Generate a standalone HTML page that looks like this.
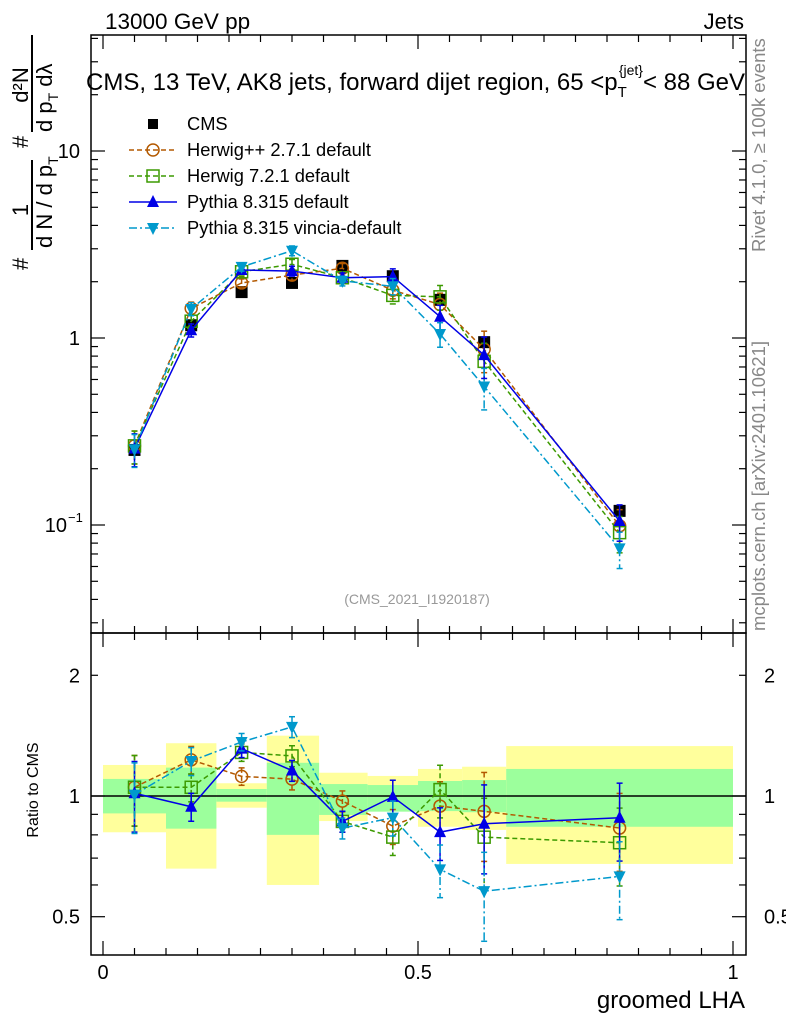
<!DOCTYPE html>
<html><head><meta charset="utf-8"><style>
body{margin:0;background:#fff;}
svg{display:block;font-family:"Liberation Sans",sans-serif;}
</style></head><body>
<svg id="c" width="786" height="1024" viewBox="0 0 786 1024" xmlns="http://www.w3.org/2000/svg"></svg>
<script>
const xCenters=[0.05,0.14,0.22,0.30,0.38,0.46,0.535,0.605,0.82];
const binEdges=[0,0.1,0.18,0.26,0.343,0.42,0.5,0.57,0.64,1.0];
const cmsVals=[0.252,1.17,1.76,1.97,2.43,2.14,1.6,0.95,0.119];
const herwigppVals=[0.265,1.44,1.97,2.17,2.36,1.80,1.51,0.87,0.099];
const herwig7Vals=[0.265,1.23,2.26,2.48,2.10,1.69,1.66,0.75,0.091];
const pythiaVals=[0.256,1.10,2.31,2.28,2.10,2.13,1.30,0.81,0.105];
const vinciaVals=[0.254,1.43,2.40,2.93,2.02,1.89,1.05,0.55,0.075];
const mcRelErr=[0.2,0.08,0.05,0.06,0.06,0.1,0.15,0.25,0.22];
const cmsRelErr=[0.05,0.05,0.03,0.04,0.03,0.04,0.04,0.05,0.06];
const statHi=[1.103,1.177,1.041,1.21,1.071,1.065,1.09,1.096,1.168];
const statLo=[0.905,0.829,0.968,0.80,0.897,0.914,0.917,0.911,0.838];
const totHi=[1.195,1.354,1.076,1.414,1.143,1.122,1.168,1.183,1.332];
const totLo=[0.812,0.659,0.935,0.60,0.866,0.944,0.838,0.823,0.677];
const mainTicks=[{v:10,t:"10"},{v:1,t:"1"}];
const ratioTicks=[{v:2,t:"2"},{v:1,t:"1"},{v:0.5,t:"0.5"}];
const xTicks=[{v:0,t:"0"},{v:0.5,t:"0.5"},{v:1,t:"1"}];

const NS="http://www.w3.org/2000/svg";
const svg=document.getElementById('c');
function el(tag,attrs,parent,text){const e=document.createElementNS(NS,tag);for(const k in attrs)e.setAttribute(k,attrs[k]);if(text!==undefined)e.textContent=text;(parent||svg).appendChild(e);return e;}
const L=91,R=746,MT=35,MB=633,RB=955;
const X=v=>103+630*v;
const Ym=v=>338-187*Math.log10(v);
const Yr=v=>796-401*Math.log10(v);

const gb=el('g',{},svg);

for(let i=0;i<xCenters.length;i++){
 const x0=X(binEdges[i]),x1=X(binEdges[i+1]);
 const y=el('rect',{x:x0,y:Yr(totHi[i]),width:x1-x0,height:Yr(totLo[i])-Yr(totHi[i]),fill:'#ffff9c'},gb);
 
 const g=el('rect',{x:x0,y:Yr(statHi[i]),width:x1-x0,height:Yr(statLo[i])-Yr(statHi[i]),fill:'#9cff9c'},gb);
 
}
el('line',{x1:L,x2:R,y1:Yr(1),y2:Yr(1),stroke:'#000','stroke-width':1.5});

for(const [t,b] of [[MT,MB],[MB,RB]]){
 const f=el('rect',{x:L,y:t,width:R-L,height:b-t,fill:'none',stroke:'#000','stroke-width':1.5});
 
}
for(let d=-2;d<=1;d++)for(let m=1;m<10;m++){
 const v=m*Math.pow(10,d);const y=Ym(v);if(y<MT||y>MB)continue;
 const len=m==1?14:7;
 el('line',{x1:L,x2:L+len,y1:y,y2:y,stroke:'#000','stroke-width':1.2});
 el('line',{x1:R,x2:R-len,y1:y,y2:y,stroke:'#000','stroke-width':1.2});
}
for(let d=-1;d<=0;d++)for(let m=1;m<10;m++){
 const v=m*Math.pow(10,d);const y=Yr(v);if(y<MB||y>RB)continue;
 const len=(m==1&&d==0)||(m==5&&d==-1)?14:7;
 el('line',{x1:L,x2:L+len,y1:y,y2:y,stroke:'#000','stroke-width':1.2});
 el('line',{x1:R,x2:R-len,y1:y,y2:y,stroke:'#000','stroke-width':1.2});
}
for(let k=0;k<=20;k++){
 const v=k*0.05;const x=X(v);const len=k%10==0?14:7;
 for(const [t,b] of [[MT,MB],[MB,RB]]){
  el('line',{x1:x,x2:x,y1:b,y2:b-len,stroke:'#000','stroke-width':1.2});
  el('line',{x1:x,x2:x,y1:t,y2:t+len,stroke:'#000','stroke-width':1.2});
 }
}
mainTicks.forEach(t=>{const e=el('text',{x:80,y:Ym(t.v)+7,'font-size':20,'text-anchor':'end'},svg,t.t);});
{const e=el('text',{x:67,y:Ym(0.1)+7,'font-size':20,'text-anchor':'end'},svg,'10');
 el('text',{x:68,y:Ym(0.1)-3,'font-size':13},svg,'−1');}
ratioTicks.forEach(t=>{
 const a=el('text',{x:80,y:Yr(t.v)+7,'font-size':20,'text-anchor':'end'},svg,t.t);
 const b=el('text',{x:764,y:Yr(t.v)+7,'font-size':20},svg,t.t);
});
xTicks.forEach(t=>{const e=el('text',{x:X(t.v),y:979,'font-size':20,'text-anchor':'middle'},svg,t.t);});

const series=[
 {name:'herwigpp',vals:herwigppVals,color:'#b35900',dash:'5,3',marker:'circle'},
 {name:'herwig7',vals:herwig7Vals,color:'#3c9a00',dash:'5,3',marker:'square'},
 {name:'pythia',vals:pythiaVals,color:'#0000e6',dash:'',marker:'up'},
 {name:'vincia',vals:vinciaVals,color:'#0099cc',dash:'8,3,2,3',marker:'down'}
];
function marker(g,type,x,y,color,s){
 s=s||6;let e;
 if(type=='circle')e=el('circle',{cx:x,cy:y,r:s,fill:'none',stroke:color,'stroke-width':1.5},g);
 else if(type=='square')e=el('rect',{x:x-s,y:y-s,width:2*s,height:2*s,fill:'none',stroke:color,'stroke-width':1.5},g);
 else if(type=='fsq')e=el('rect',{x:x-s,y:y-s,width:2*s,height:2*s,fill:color},g);
 else if(type=='up')e=el('polygon',{points:`${x},${y-s-1} ${x-s},${y+s-1} ${x+s},${y+s-1}`,fill:color},g);
 else e=el('polygon',{points:`${x},${y+s+1} ${x-s},${y-s+1} ${x+s},${y-s+1}`,fill:color},g);
 
}
const cg=el('g',{},svg);
cmsVals.forEach((v,i)=>{marker(cg,'fsq',X(xCenters[i]),Ym(v),'#000',6);
 el('line',{x1:X(xCenters[i]),x2:X(xCenters[i]),y1:Ym(v*(1+cmsRelErr[i])),y2:Ym(v*(1-cmsRelErr[i])),stroke:'#000','stroke-width':1.5},cg);});
series.forEach(s=>{
 const g=el('g',{},svg);
 const gr=el('g',{},svg);
 const pm=s.vals.map((v,i)=>X(xCenters[i])+','+Ym(v)).join(' ');
 el('polyline',{points:pm,fill:'none',stroke:s.color,'stroke-width':1.5,'stroke-dasharray':s.dash},g);
 const rat=s.vals.map((v,i)=>v/cmsVals[i]);
 el('polyline',{points:rat.map((r,i)=>X(xCenters[i])+','+Yr(r)).join(' '),fill:'none',stroke:s.color,'stroke-width':1.5,'stroke-dasharray':s.dash},gr);
 s.vals.forEach((v,i)=>{
  const x=X(xCenters[i]),e=mcRelErr[i];
  el('line',{x1:x,x2:x,y1:Ym(v*(1+e)),y2:Ym(v*(1-e)),stroke:s.color,'stroke-width':1.5,'stroke-dasharray':s.dash},g);
  el('line',{x1:x-3,x2:x+3,y1:Ym(v*(1+e)),y2:Ym(v*(1+e)),stroke:s.color,'stroke-width':1.5},g);
  el('line',{x1:x-3,x2:x+3,y1:Ym(v*(1-e)),y2:Ym(v*(1-e)),stroke:s.color,'stroke-width':1.5},g);
  marker(g,s.marker,x,Ym(v),s.color);
  const r=rat[i];
  el('line',{x1:x,x2:x,y1:Yr(r*(1+e)),y2:Yr(r*(1-e)),stroke:s.color,'stroke-width':1.5,'stroke-dasharray':s.dash},gr);
  el('line',{x1:x-3,x2:x+3,y1:Yr(r*(1+e)),y2:Yr(r*(1+e)),stroke:s.color,'stroke-width':1.5},gr);
  el('line',{x1:x-3,x2:x+3,y1:Yr(r*(1-e)),y2:Yr(r*(1-e)),stroke:s.color,'stroke-width':1.5},gr);
  marker(gr,s.marker,x,Yr(r),s.color);
 });
});
const lg=el('g',{},svg);
const leg=[{t:'CMS',c:'#000',m:'fsq',d:null},{t:'Herwig++ 2.7.1 default',c:'#b35900',m:'circle',d:'5,3'},{t:'Herwig 7.2.1 default',c:'#3c9a00',m:'square',d:'5,3'},{t:'Pythia 8.315 default',c:'#0000e6',m:'up',d:''},{t:'Pythia 8.315 vincia-default',c:'#0099cc',m:'down',d:'8,3,2,3'}];
leg.forEach((l,i)=>{
 const y=124+26*i;
 const e=el('g',{},lg);
 if(l.d!==null)el('line',{x1:129,x2:177,y1:y,y2:y,stroke:l.c,'stroke-width':1.5,'stroke-dasharray':l.d},e);
 marker(e,l.m,153,y,l.c,l.m=='fsq'?5:6);
 el('text',{x:187,y:y+6,'font-size':18.3},e,l.t);
});
</script>
<svg width="786" height="1024" style="position:absolute;left:0;top:0" xmlns="http://www.w3.org/2000/svg" font-family="Liberation Sans, sans-serif">
<text x="105" y="29" font-size="22.5">13000 GeV pp</text>
<text x="744" y="29" font-size="22" text-anchor="end">Jets</text>
<text x="86" y="90" font-size="24">CMS, 13 TeV, AK8 jets, forward dijet region, 65 &lt;p<tspan font-size="15" dy="7">T</tspan><tspan font-size="14" dy="-22" dx="-8">{jet}</tspan><tspan dy="15">&lt; 88 GeV</tspan></text>
<text transform="translate(765,252) rotate(-90)" font-size="18.5" fill="#888">Rivet 4.1.0, ≥ 100k events</text>
<text transform="translate(765,631) rotate(-90)" font-size="18.5" fill="#888">mcplots.cern.ch [arXiv:2401.10621]</text>
<text x="417" y="604" font-size="14" fill="#999" text-anchor="middle">(CMS_2021_I1920187)</text>
<g transform="rotate(-90)" font-size="22">
 <text x="-270" y="28">#</text>
 <text x="-210" y="28" text-anchor="middle">1</text>
 <line x1="-250" x2="-160" y1="32" y2="32" stroke="#000" stroke-width="2"/>
 <text x="-248" y="52">d N / d p<tspan font-size="14" dy="6">T</tspan></text>
 <text x="-148" y="28">#</text>
 <text x="-85" y="28" text-anchor="middle">d²N</text>
 <line x1="-132" x2="-35" y1="32" y2="32" stroke="#000" stroke-width="2"/>
 <text x="-132" y="52">d p<tspan font-size="14" dy="6">T</tspan><tspan dy="-6"> dλ</tspan></text>
</g>
<text transform="translate(38,790) rotate(-90)" font-size="16" text-anchor="middle">Ratio to CMS</text>
<text x="745" y="1008" font-size="24" text-anchor="end">groomed LHA</text>
</svg>
</body></html>
